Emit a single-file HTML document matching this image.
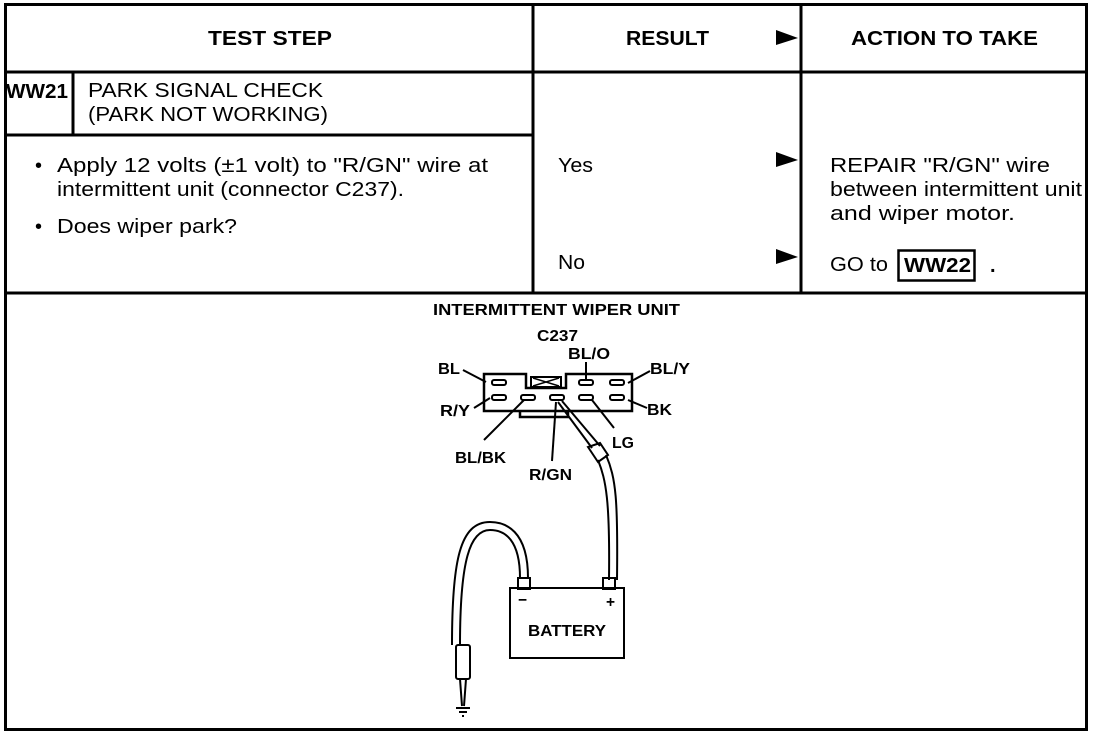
<!DOCTYPE html>
<html><head><meta charset="utf-8"><style>
html,body{margin:0;padding:0;background:#fff;}
svg{display:block;}
text{font-family:"Liberation Sans",Arial,sans-serif;fill:#000;}
.h{font-weight:bold;font-size:20px;}
.b{font-size:20px;}
.s{font-size:15.5px;font-weight:bold;}
</style></head><body>
<svg width="1120" height="734" viewBox="0 0 1120 734" xmlns="http://www.w3.org/2000/svg">
<g stroke="#000" stroke-width="3" fill="none">
<rect x="5.5" y="4.5" width="1081" height="725"/>
<line x1="5" y1="72" x2="1087" y2="72"/>
<line x1="533" y1="4" x2="533" y2="293"/>
<line x1="801" y1="4" x2="801" y2="293"/>
<line x1="5" y1="135" x2="533" y2="135"/>
<line x1="73" y1="72" x2="73" y2="135"/>
<line x1="5" y1="293" x2="1087" y2="293"/>
</g>
<g lengthAdjust="spacingAndGlyphs">
<text x="208" y="45" class="h" textLength="124" lengthAdjust="spacingAndGlyphs">TEST STEP</text>
<text x="626" y="45" class="h" textLength="83" lengthAdjust="spacingAndGlyphs">RESULT</text>
<text x="851" y="45" class="h" textLength="187" lengthAdjust="spacingAndGlyphs">ACTION TO TAKE</text>
<text x="6" y="98" class="h" textLength="62" lengthAdjust="spacingAndGlyphs">WW21</text>
<text x="88" y="97" class="b" textLength="235" lengthAdjust="spacingAndGlyphs">PARK SIGNAL CHECK</text>
<text x="88" y="121" class="b" textLength="240" lengthAdjust="spacingAndGlyphs">(PARK NOT WORKING)</text>
<text x="35" y="172" class="b">•</text>
<text x="57" y="172" class="b" textLength="431" lengthAdjust="spacingAndGlyphs">Apply 12 volts (±1 volt) to "R/GN" wire at</text>
<text x="57" y="196" class="b" textLength="347" lengthAdjust="spacingAndGlyphs">intermittent unit (connector C237).</text>
<text x="35" y="233" class="b">•</text>
<text x="57" y="233" class="b" textLength="180" lengthAdjust="spacingAndGlyphs">Does wiper park?</text>
<text x="558" y="172" class="b" textLength="35" lengthAdjust="spacingAndGlyphs">Yes</text>
<text x="558" y="269" class="b" textLength="27" lengthAdjust="spacingAndGlyphs">No</text>
<text x="830" y="172" class="b" textLength="220" lengthAdjust="spacingAndGlyphs">REPAIR "R/GN" wire</text>
<text x="830" y="196" class="b" textLength="252" lengthAdjust="spacingAndGlyphs">between intermittent unit</text>
<text x="830" y="220" class="b" textLength="185" lengthAdjust="spacingAndGlyphs">and wiper motor.</text>
<text x="830" y="271" class="b" textLength="58" lengthAdjust="spacingAndGlyphs">GO to</text>
<text x="904" y="272" class="h" textLength="67" lengthAdjust="spacingAndGlyphs">WW22</text>
</g>
<polygon points="776,30 798,38 776,45" fill="#000"/>
<polygon points="776,152 798,160 776,167" fill="#000"/>
<polygon points="776,249 798,257 776,264" fill="#000"/>
<rect x="898.5" y="250.5" width="76" height="30" fill="none" stroke="#000" stroke-width="2.5"/>
<text x="990" y="272" class="h">.</text>
<!-- diagram -->
<text x="433" y="315" class="s" textLength="247" lengthAdjust="spacingAndGlyphs">INTERMITTENT WIPER UNIT</text>
<text x="537" y="341" class="s" textLength="41" lengthAdjust="spacingAndGlyphs">C237</text>
<g stroke="#000" fill="none" stroke-width="2.5">
<path d="M484,374 H526 V388 H566 V374 H632 V411 H484 Z"/>
<path d="M520,411 V417 H568 V411"/>
<rect x="531" y="377" width="30" height="10" stroke-width="2"/>
<path d="M533,378 L559,386 M559,378 L533,386" stroke-width="1.5"/>
<g stroke-width="2">
<rect x="492" y="380" width="14" height="5" rx="2"/>
<rect x="579" y="380" width="14" height="5" rx="2"/>
<rect x="610" y="380" width="14" height="5" rx="2"/>
<rect x="492" y="395" width="14" height="5" rx="2"/>
<rect x="521" y="395" width="14" height="5" rx="2"/>
<rect x="550" y="395" width="14" height="5" rx="2"/>
<rect x="579" y="395" width="14" height="5" rx="2"/>
<rect x="610" y="395" width="14" height="5" rx="2"/>
</g>
<g stroke-width="2">
<line x1="463" y1="370" x2="486" y2="382"/>
<line x1="586" y1="362" x2="586" y2="379"/>
<line x1="628" y1="383" x2="650" y2="371"/>
<line x1="474" y1="408" x2="490" y2="398"/>
<line x1="628" y1="400" x2="647" y2="408"/>
<line x1="484" y1="440" x2="524" y2="400"/>
<line x1="552" y1="461" x2="556" y2="402"/>
<line x1="592" y1="400" x2="614" y2="428"/>
</g>
<g stroke-width="2">
<path d="M558,402 L592,448"/>
<path d="M562,401 L600,446"/>
<path d="M588,447 L598,462 L608,455 L600,443 Z"/>
<path d="M598,460 C606,480 610,500 609,580"/>
<path d="M606,455 C616,478 618,500 617,580"/>
<rect x="603" y="578" width="12" height="11"/>
<rect x="510" y="588" width="114" height="70"/>
<rect x="518" y="578" width="12" height="11"/>
<path d="M520,578 C520,540 505,530 490,530 C470,530 460,560 460,645"/>
<path d="M528,578 C528,530 505,522 490,522 C460,522 452,560 452,645"/>
<rect x="456" y="645" width="14" height="34" rx="2"/>
<path d="M460,679 L462,706 M466,679 L464,706"/>
</g>
<line x1="456" y1="708" x2="470" y2="708" stroke-width="2"/>
<line x1="459" y1="712" x2="467" y2="712" stroke-width="2"/>
<line x1="462" y1="716" x2="464" y2="716" stroke-width="2"/>
</g>
<text x="438" y="374" class="s" textLength="22" lengthAdjust="spacingAndGlyphs">BL</text>
<text x="568" y="359" class="s" textLength="42" lengthAdjust="spacingAndGlyphs">BL/O</text>
<text x="650" y="374" class="s" textLength="40" lengthAdjust="spacingAndGlyphs">BL/Y</text>
<text x="440" y="416" class="s" textLength="30" lengthAdjust="spacingAndGlyphs">R/Y</text>
<text x="647" y="415" class="s" textLength="25" lengthAdjust="spacingAndGlyphs">BK</text>
<text x="455" y="463" class="s" textLength="51" lengthAdjust="spacingAndGlyphs">BL/BK</text>
<text x="529" y="480" class="s" textLength="43" lengthAdjust="spacingAndGlyphs">R/GN</text>
<text x="612" y="448" class="s" textLength="22" lengthAdjust="spacingAndGlyphs">LG</text>
<text x="518" y="605" class="s">−</text>
<text x="606" y="607" class="s">+</text>
<text x="528" y="636" class="s" textLength="78" lengthAdjust="spacingAndGlyphs">BATTERY</text>
</svg>
</body></html>
